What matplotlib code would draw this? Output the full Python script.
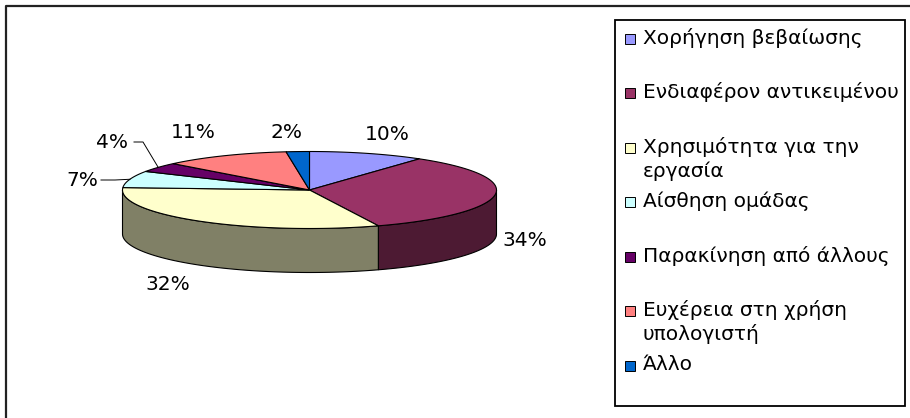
import numpy as np
import matplotlib
matplotlib.use("Agg")
import matplotlib.pyplot as plt
from matplotlib.patches import Polygon, Rectangle

# ---- data ----
categories = [
    ["Χορήγηση βεβαίωσης"],
    ["Ενδιαφέρον αντικειμένου"],
    ["Χρησιμότητα για την", "εργασία"],
    ["Αίσθηση ομάδας"],
    ["Παρακίνηση από άλλους"],
    ["Ευχέρεια στη χρήση", "υπολογιστή"],
    ["Άλλο"],
]
values = [10, 34, 32, 7, 4, 11, 2]
pct_labels = ["10%", "34%", "32%", "7%", "4%", "11%", "2%"]
colors = ["#9999FF", "#993366", "#FFFFCC", "#CCFFFF", "#660066", "#FF8080", "#0066CC"]

# ---- layout (pixels) ----
W, H = 910, 418
cx, cy = 309.5, 190.0      # centre of top ellipse
a, b = 187.0, 38.5         # ellipse radii
depth = 44.0               # height of the pie
label_xy = [(387, 134), (525, 240), (168, 284), (82, 180), (112, 142), (193, 133), (287, 132)]
leader = {3: (101, 115), 4: (134, 143)}   # label idx -> (x start, x bend)
FONT = "DejaVu Sans"

fig = plt.figure(figsize=(W / 100, H / 100), dpi=100)
ax = fig.add_axes([0, 0, 1, 1])
ax.set_xlim(0, W)
ax.set_ylim(H, 0)
ax.axis("off")


def ell(theta_deg, dz=0.0):
    t = np.radians(theta_deg)
    return cx + a * np.cos(t), cy - b * np.sin(t) + dz


total = float(sum(values))
starts, ends = [], []
ang = 90.0
for v in values:
    s = ang
    e = ang - 360.0 * v / total
    starts.append(s)
    ends.append(e)
    ang = e

# side walls (front half, angles between -180 and 0)
for i, (s, e) in enumerate(zip(starts, ends)):
    lo, hi = max(e, -180.0), min(s, 0.0)
    if hi <= lo:
        continue
    th = np.linspace(lo, hi, 80)
    xt, yt = ell(th)
    xb, yb = ell(th[::-1], depth)
    pts = np.column_stack([np.r_[xt, xb], np.r_[yt, yb]])
    rgb = np.array(matplotlib.colors.to_rgb(colors[i])) * 0.5
    ax.add_patch(Polygon(pts, closed=True, facecolor=rgb, edgecolor="black", lw=0.8, zorder=2))

# top faces
for i, (s, e) in enumerate(zip(starts, ends)):
    th = np.linspace(s, e, 120)
    xt, yt = ell(th)
    pts = np.column_stack([np.r_[cx, xt], np.r_[cy, yt]])
    ax.add_patch(Polygon(pts, closed=True, facecolor=colors[i], edgecolor="black", lw=0.8, zorder=3))

# percentage labels
for i, lab in enumerate(pct_labels):
    x, y = label_xy[i]
    ax.text(x, y, lab, ha="center", va="center", fontsize=14.5, family=FONT, zorder=5)
    if i in leader:
        mid = (starts[i] + ends[i]) / 2.0
        ex, ey = ell(mid)
        x0, x1 = leader[i]
        ax.plot([x0, x1, ex], [y, y, ey], color="black", lw=0.7, zorder=4)

# legend
ax.add_patch(Rectangle((615, 20), 290, 386, facecolor="white", edgecolor="black", lw=1.3, zorder=1))
first_y, step, line_h = 38.0, 54.5, 24.0
for i, lines in enumerate(categories):
    y0 = first_y + i * step
    ax.add_patch(Rectangle((625, y0 - 4.5), 10, 10, facecolor=colors[i], edgecolor="black", lw=0.7, zorder=4))
    for k, ln in enumerate(lines):
        ax.text(643, y0 + k * line_h, ln, ha="left", va="center", fontsize=14.5, family=FONT, zorder=5)

# outer frame (left and top edges)
ax.plot([6, 6, W], [H, 6, 6], color="#222222", lw=1.6, solid_capstyle="butt", zorder=6)

fig.savefig("out.png", dpi=100)
